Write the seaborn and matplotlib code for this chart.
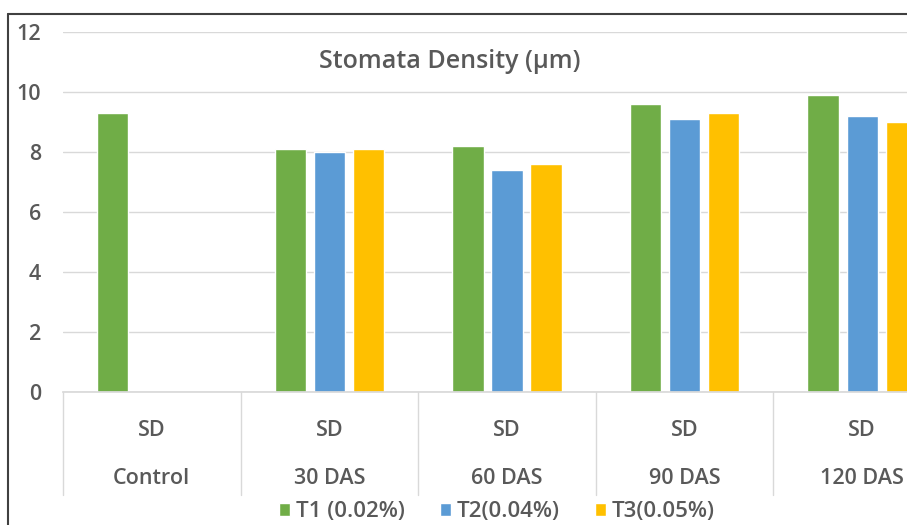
import numpy as np
import pandas as pd
import matplotlib
matplotlib.use("Agg")
import matplotlib.pyplot as plt
from matplotlib.lines import Line2D
import matplotlib.transforms as mtransforms
import seaborn as sns

# Stomata density per sampling stage and treatment
categories = ["Control", "30 DAS", "60 DAS", "90 DAS", "120 DAS"]
sub_label = "SD"
t1_values = [9.3, 8.1, 8.2, 9.6, 9.9]
t2_values = [np.nan, 8.0, 7.4, 9.1, 9.2]
t3_values = [np.nan, 8.1, 7.6, 9.3, 9.0]
series_names = ["T1 (0.02%)", "T2(0.04%)", "T3(0.05%)"]
y_ticks = [0, 2, 4, 6, 8, 10, 12]
title = "Stomata Density (\u00b5m)"

colors = ["#70AD47", "#5B9BD5", "#FFC000"]
text_color = "#595959"
grid_color = "#D9D9D9"
label_size = 15.5
weight = "semibold"

df = pd.DataFrame({
    "stage": categories * 3,
    "treatment": [series_names[0]] * 5 + [series_names[1]] * 5 + [series_names[2]] * 5,
    "value": t1_values + t2_values + t3_values,
})

sns.set_theme(style="white")
plt.rcParams["font.family"] = ["Open Sans", "DejaVu Sans"]

W, H = 907, 525
fig = plt.figure(figsize=(W / 100, H / 100), dpi=100)
fig.patch.set_facecolor("white")

# plot area in pixel terms (extends past the right edge of the canvas)
left_px, right_px = 63, 951
bottom_px, top_px = 392, 32
ax = fig.add_axes([left_px / W, 1 - bottom_px / H,
                   (right_px - left_px) / W, (bottom_px - top_px) / H])

sns.barplot(data=df, x="stage", y="value", hue="treatment",
            order=categories, hue_order=series_names, palette=colors,
            width=0.66, gap=0.2, saturation=1, errorbar=None, ax=ax)

ax.set_xlim(-0.5, len(categories) - 0.5)
ax.set_ylim(0, 12)
ax.set_yticks(y_ticks)
ax.set_yticklabels([str(v) for v in y_ticks], color=text_color,
                   fontsize=label_size, fontweight=weight)
ax.tick_params(axis="y", length=0, pad=16)
ax.grid(axis="y", color=grid_color, linewidth=1)
ax.set_axisbelow(True)
for side in ["left", "right", "top"]:
    ax.spines[side].set_visible(False)
ax.spines["bottom"].set_color(grid_color)
ax.set_xlabel("")
ax.set_ylabel("")

# two-level category axis: "SD" above the stage name, with dividers
ax.set_xticks(range(len(categories)))
ax.set_xticklabels([""] * len(categories))
ax.tick_params(axis="x", length=0)
trans = mtransforms.blended_transform_factory(ax.transData, ax.transAxes)
axes_h = bottom_px - top_px
for i, cat in enumerate(categories):
    ax.text(i, (bottom_px - 430) / axes_h, sub_label, transform=trans,
            ha="center", va="center", color=text_color, fontsize=label_size,
            fontweight=weight, clip_on=False)
    ax.text(i, (bottom_px - 479) / axes_h, cat, transform=trans,
            ha="center", va="center", color=text_color, fontsize=label_size,
            fontweight=weight, clip_on=False)
for b in np.arange(-0.5, len(categories), 1.0):
    ax.plot([b, b], [0, (bottom_px - 495) / axes_h], transform=trans,
            color=grid_color, linewidth=1, clip_on=False)

# chart title inside the plot area
fig.text(450 / W, 1 - 61 / H, title, ha="center", va="center",
         color=text_color, fontsize=18, fontweight=weight)

# legend along the bottom
sns.move_legend(ax, "center", bbox_to_anchor=(497 / W, 1 - 512 / H),
                bbox_transform=fig.transFigure, ncol=3, frameon=False,
                title=None, prop={"size": 16, "weight": weight},
                handlelength=0.5, handleheight=0.5,
                handletextpad=0.25, columnspacing=1.6, borderpad=0)
for t in ax.get_legend().get_texts():
    t.set_color(text_color)

# outer frame of the picture
fig.add_artist(Line2D([8 / W, 1.0], [1 - 14 / H, 1 - 14 / H], transform=fig.transFigure,
                      color="#404040", linewidth=1.5))
fig.add_artist(Line2D([8 / W, 8 / W], [1 - 14 / H, 0.0], transform=fig.transFigure,
                      color="#404040", linewidth=1.5))

fig.savefig("out.png", dpi=100)
